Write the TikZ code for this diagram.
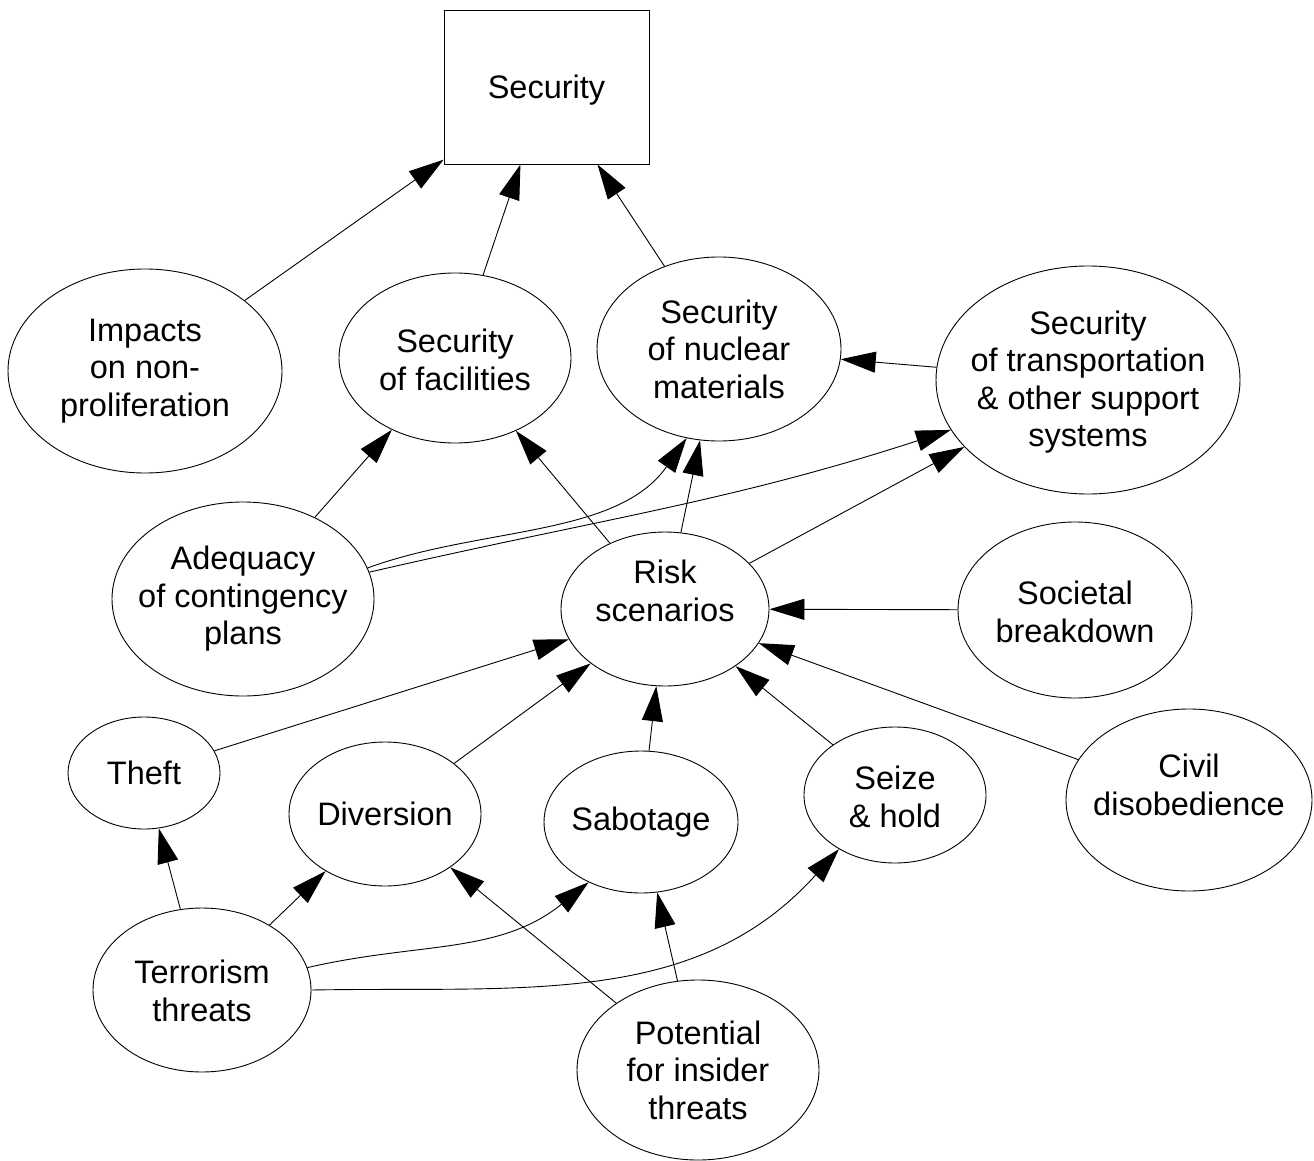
\documentclass[tikz,border=0pt]{standalone}
\usepackage{fontspec}
\setmainfont{Liberation Sans}
\usetikzlibrary{shapes.geometric,arrows.meta}
\begin{document}
\begin{tikzpicture}[x=1pt,y=-1pt,
  ell/.style 2 args={ellipse,draw,line width=0.9pt,inner sep=0pt,minimum width=#1pt,minimum height=#2pt},
  lbl/.style={align=center,font=\fontsize{32.5}{37.5}\selectfont,inner sep=0pt},
  arr/.style={line width=0.9pt,-{Triangle[length=35pt,width=21pt]}}]
\useasboundingbox (0,0) rectangle (1314,1161);
% nodes
\node[draw,line width=0.9pt,inner sep=0pt,minimum width=205pt,minimum height=154pt] (sec) at (546.5,87) {};
\node[lbl] at (546.5,90) {Security};
\node[ell={274}{204}] (imp) at (145,371) {};
\node[lbl] at (imp) {Impacts\\on non-\\proliferation};
\node[ell={232}{170}] (fac) at (455,358) {};
\node[lbl] at (455,360) {Security\\of facilities};
\node[ell={244}{184}] (nuc) at (719,349) {};
\node[lbl] at (nuc) {Security\\of nuclear\\materials};
\node[ell={304}{228}] (trans) at (1088,380) {};
\node[lbl] at (1088,382) {Security\\of transportation\\\& other support\\systems};
\node[ell={262}{194}] (adeq) at (243,599) {};
\node[lbl] at (adeq) {Adequacy\\of contingency\\plans};
\node[ell={208}{154}] (risk) at (665,609) {};
\node[lbl] at (665,591) {Risk\\scenarios};
\node[ell={234}{176}] (soc) at (1075,610) {};
\node[lbl] at (1075,612) {Societal\\breakdown};
\node[ell={152}{112}] (theft) at (144,773) {};
\node[lbl] at (theft) {Theft};
\node[ell={192}{144}] (div) at (385,814) {};
\node[lbl] at (div) {Diversion};
\node[ell={194}{142}] (sab) at (641,822) {};
\node[lbl] at (sab) {Sabotage};
\node[ell={182}{136}] (seize) at (895,795) {};
\node[lbl] at (895,797) {Seize\\\& hold};
\node[ell={246}{182}] (civil) at (1189,800) {};
\node[lbl] at (1189,785) {Civil\\disobedience};
\node[ell={218}{164}] (terr) at (202,990) {};
\node[lbl] at (202,991) {Terrorism\\threats};
\node[ell={242}{180}] (pot) at (698,1070) {};
\node[lbl] at (pot) {Potential\\for insider\\threats};
% connectors
\draw[arr] (imp) -- (sec);
\draw[arr] (fac) -- (sec);
\draw[arr] (nuc) -- (sec);
\draw[arr] (trans) -- (nuc);
\draw[arr] (adeq) -- (fac);
\draw[arr] (adeq.14) to[out=20,in=235,looseness=0.9] (nuc.250);
\draw[arr] (adeq.12) to[out=13,in=198] (trans.200);
\draw[arr] (risk) -- (fac);
\draw[arr] (risk) -- (nuc);
\draw[arr] (risk) -- (trans);
\draw[arr] (soc) -- (risk);
\draw[arr] (civil) -- (risk);
\draw[arr] (seize) -- (risk);
\draw[arr] (sab) -- (risk);
\draw[arr] (div) -- (risk);
\draw[arr] (theft) -- (risk);
\draw[arr] (terr) -- (theft);
\draw[arr] (terr) -- (div);
\draw[arr] (terr.12) to[out=13,in=219] (sab.229);
\draw[arr] (terr.0) to[out=1,in=228] (seize.224);
\draw[arr] (pot) -- (div);
\draw[arr] (pot) -- (sab);
\end{tikzpicture}
\end{document}
